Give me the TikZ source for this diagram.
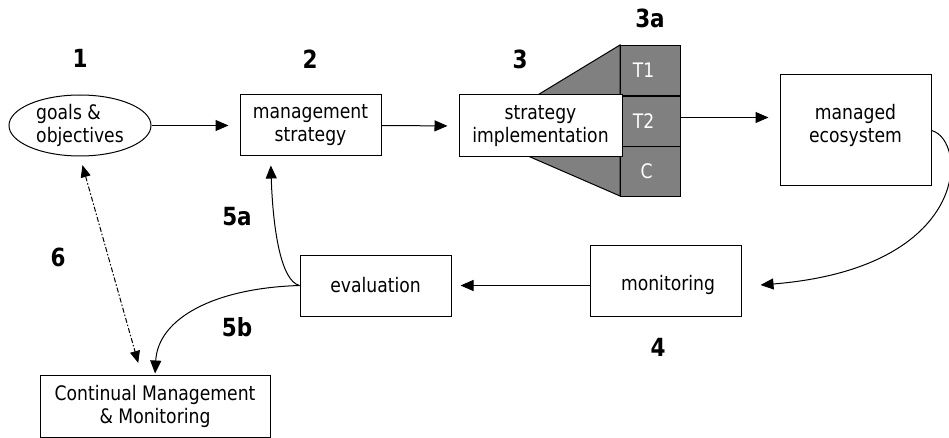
\documentclass[tikz,border=0pt]{standalone}
\usepackage{fontspec}
\setmainfont{DejaVu Sans}[FakeStretch=0.86]
\usetikzlibrary{arrows.meta,shapes.geometric}

\tikzset{
  body/.style={font=\fontsize{20pt}{23pt}\selectfont},
  boxnode/.style={draw, line width=1pt, rectangle, inner sep=0pt, body, align=center},
  stepnum/.style={font=\fontsize{25pt}{30pt}\selectfont\bfseries, inner sep=0pt},
  cell/.style={draw, line width=1pt, fill=black!50, minimum width=60pt, minimum height=50pt,
               inner sep=0pt},
  flow/.style={line width=1pt, -{Triangle[length=13pt,width=11pt]}},
  dashdot/.style={line width=1pt, dash pattern=on 5pt off 2pt on 1.5pt off 2pt,
                  {Triangle[length=12pt,width=10pt]}-{Triangle[length=12pt,width=10pt]}},
}

\begin{document}
\begin{tikzpicture}[x=1pt,y=-1pt]
\useasboundingbox (0,0) rectangle (949,438);

% step numbers
\node[stepnum] (n1)  at (80,58)  {1};
\node[stepnum] (n2)  at (310,59) {2};
\node[stepnum] (n3)  at (520,59) {3};
\node[stepnum] (n3a) at (650,18) {3a};
\node[stepnum] (n4)  at (658,347) {4};
\node[stepnum] (n5a) at (237,217) {5a};
\node[stepnum] (n5b) at (237,327) {5b};
\node[stepnum] (n6)  at (58,257) {6};

% goals and management strategy
\node[draw, line width=1pt, ellipse, minimum width=142pt, minimum height=61pt,
      inner sep=0pt, body, align=left] (goals) at (80,125.5) {goals \&\\objectives};
\node[boxnode, minimum width=141pt, minimum height=61pt] (mgmt) at (310.5,125.5)
      {management\\strategy};

% tactics column with the wedge behind the implementation box
\filldraw[line width=1pt, fill=black!50] (620,45) -- (475,133) -- (620,196) -- cycle;
\node[cell, anchor=north west] (t1) at (620,45) {};
\node[cell, anchor=north west] (t2) at (620,96) {};
\node[cell, anchor=north west] (tc) at (620,146) {};
\node[body, text=white, inner sep=0pt] at ([xshift=-7pt]t1.center) {T1};
\node[body, text=white, inner sep=0pt] at ([xshift=-7pt]t2.center) {T2};
\node[body, text=white, inner sep=0pt] at ([xshift=-4pt]tc.center) {C};
\node[boxnode, fill=white, minimum width=163pt, minimum height=62pt] (impl) at (540.5,126)
      {strategy\\implementation};

% managed ecosystem
\node[draw, line width=1pt, minimum width=151pt, minimum height=111pt, inner sep=0pt]
      (eco) at (855.5,130.5) {};
\node[body, align=center, inner sep=0pt] (ecotext) at (855.5,125) {managed\\ecosystem};

% monitoring, evaluation, continual management
\node[boxnode, minimum width=151pt, minimum height=71pt] (mon) at (665.5,280.5) {};
\node[body, inner sep=0pt] (montext) at (668,285) {monitoring};
\node[boxnode, minimum width=151pt, minimum height=61pt] (eval) at (375.5,285.5) {evaluation};
\node[boxnode, minimum width=230pt, minimum height=62pt] (cont) at (155,406)
      {Continual Management\\\& Monitoring};

% connector end points
\coordinate (t2out) at ([yshift=4pt]t2.east);
\coordinate (monin) at ([xshift=19pt,yshift=-4.5pt]mon.east);
\coordinate (mgmtin) at ([xshift=-40pt]mgmt.south);
\coordinate (contin) at ([xshift=-13.5pt]cont.north);

% connectors
\draw[flow, shorten >=11pt] (goals.east) -- (mgmt.west);
\draw[flow, shorten >=11pt] (mgmt.east) -- (impl.west);
\draw[flow, shorten >=11pt] (t2out) -- (t2out -| eco.west);
\draw[flow] (eco.east) .. controls (968,140) and (972,268) .. (monin);
\draw[flow, shorten >=9pt] (mon.west |- eval.east) -- (eval.east);
\draw[flow, shorten >=9pt] (eval.west) .. controls (281,281) and (273,230) .. (mgmtin);
\draw[flow, shorten >=1pt] (eval.west) .. controls (215,288) and (158,318) .. (cont.north);
\draw[dashdot, shorten <=9pt, shorten >=12pt] (goals.south) -- (contin);
\end{tikzpicture}
\end{document}
